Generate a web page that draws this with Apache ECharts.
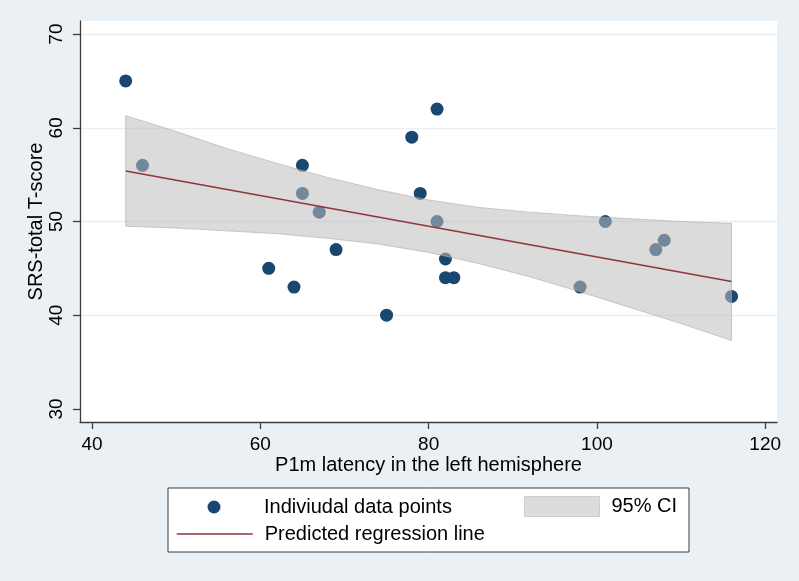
<!DOCTYPE html>
<html>
<head>
<meta charset="utf-8">
<script src="https://cdn.jsdelivr.net/npm/echarts@6/dist/echarts.min.js"></script>
<style>
html,body{margin:0;padding:0;background:#eaf0f3;}
#chart{width:799px;height:581px;}
</style>
</head>
<body>
<div id="chart"></div>
<script>
// Individual data points
var pointX = [44, 46, 61, 64, 65, 65, 67, 69, 75, 78, 79, 81, 81, 82, 82, 83, 98, 101, 107, 108, 116];
var pointY = [65, 56, 45, 43, 56, 53, 51, 47, 40, 59, 53, 62, 50, 46, 44, 44, 43, 50, 47, 48, 42];
// Predicted regression line (end points)
var lineX = [44, 116];
var lineY = [55.4, 43.6];
// 95% confidence band
var ciX = [44, 50, 56, 62, 68, 74, 80, 86, 92, 98, 104, 110, 116];
var ciUpper = [61.3, 59.6, 57.8, 56.2, 54.7, 53.4, 52.3, 51.5, 51.0, 50.6, 50.3, 50.0, 49.8];
var ciLower = [49.5, 49.3, 49.0, 48.7, 48.2, 47.6, 46.7, 45.5, 44.1, 42.5, 40.8, 39.1, 37.3];
// Axis ticks
var xTicks = [40, 60, 80, 100, 120];
var yTicks = [30, 40, 50, 60, 70];
var xTitle = 'P1m latency in the left hemisphere';
var yTitle = 'SRS-total T-score';
var legendNames = ['Indiviudal data points', 'Predicted regression line', '95% CI'];

var FONT = 'Liberation Sans, Arial, Helvetica, sans-serif';
var chart = echarts.init(document.getElementById('chart'), null, {renderer: 'canvas'});

var scatterData = pointX.map(function (x, i) { return [x, pointY[i]]; });
var lineData = lineX.map(function (x, i) { return [x, lineY[i]]; });

var option = {
  backgroundColor: '#eaf0f3',
  animation: false,
  grid: {
    left: 80, right: 22, top: 21, bottom: 159,
    show: true, backgroundColor: '#ffffff', borderWidth: 0
  },
  xAxis: {
    type: 'value',
    min: 38.57, max: 121.4,
    name: xTitle,
    nameLocation: 'middle',
    nameGap: 33,
    nameMoveOverlap: false,
    nameTextStyle: {color: '#000', fontSize: 20, fontFamily: FONT},
    axisLine: {show: true, onZero: false, lineStyle: {color: '#3c3c3c', width: 1.3}},
    axisTick: {show: true, length: 7, customValues: xTicks, lineStyle: {color: '#3c3c3c', width: 1.3}},
    axisLabel: {customValues: xTicks, color: '#000', fontSize: 19, fontFamily: FONT, margin: 13},
    splitLine: {show: false}
  },
  yAxis: {
    type: 'value',
    min: 28.6, max: 71.4,
    name: yTitle,
    nameLocation: 'middle',
    nameGap: 34,
    nameMoveOverlap: false,
    nameTextStyle: {color: '#000', fontSize: 20, fontFamily: FONT},
    axisLine: {show: true, onZero: false, lineStyle: {color: '#3c3c3c', width: 1.3}},
    axisTick: {show: true, length: 7, customValues: yTicks, lineStyle: {color: '#3c3c3c', width: 1.3}},
    axisLabel: {customValues: yTicks, color: '#000', fontSize: 19, fontFamily: FONT, margin: 14, rotate: 90},
    splitLine: {show: true, lineStyle: {color: ['rgba(0,0,0,0)', '#e6eff2', '#e6eff2', '#e6eff2', '#e6eff2'], width: 1.3}}
  },
  legend: [
    {
      selectedMode: false, orient: 'horizontal', left: 207.5, top: 497, padding: 0,
      itemWidth: 13, itemHeight: 13,
      textStyle: {color: '#000', fontSize: 20, fontFamily: FONT, lineHeight: 20, padding: [0, 0, 0, 38.5]},
      data: [{name: legendNames[0], icon: 'circle', itemStyle: {color: '#1a476f'}}]
    },
    {
      selectedMode: false, orient: 'horizontal', left: 176, top: 524, padding: 0,
      itemWidth: 76, itemHeight: 20,
      itemStyle: {opacity: 0},
      lineStyle: {color: '#90353b', width: 1.5, opacity: 1},
      textStyle: {color: '#000', fontSize: 20, fontFamily: FONT, lineHeight: 20, padding: [0, 0, 0, 7]},
      data: [{name: legendNames[1]}]
    },
    {
      selectedMode: false, orient: 'horizontal', left: 524, top: 496, padding: 0,
      itemWidth: 75, itemHeight: 20,
      textStyle: {color: '#000', fontSize: 20, fontFamily: FONT, lineHeight: 20, padding: [0, 0, 0, 7]},
      data: [{name: legendNames[2], icon: 'rect', itemStyle: {color: '#dcdcdc', borderColor: '#cdcdcd', borderWidth: 1}}]
    }
  ],
  graphic: [
    {
      type: 'rect', z: 0, silent: true,
      shape: {x: 168, y: 488, width: 521, height: 64},
      style: {fill: '#ffffff', stroke: '#3c3c3c', lineWidth: 1}
    }
  ],
  series: [
    {
      name: legendNames[0],
      type: 'scatter',
      z: 2,
      symbol: 'circle',
      symbolSize: 13,
      itemStyle: {color: '#1a476f', opacity: 1},
      data: scatterData
    },
    {
      name: legendNames[2],
      type: 'custom',
      z: 3,
      itemStyle: {color: '#dcdcdc'},
      data: [[ciX[0], ciUpper[0]]],
      renderItem: function (params, api) {
        if (params.dataIndex !== 0) return null;
        var pts = [];
        for (var i = 0; i < ciX.length; i++) pts.push(api.coord([ciX[i], ciUpper[i]]));
        for (var j = ciX.length - 1; j >= 0; j--) pts.push(api.coord([ciX[j], ciLower[j]]));
        return {
          type: 'polygon',
          shape: {points: pts},
          style: {fill: 'rgba(190,190,190,0.55)', stroke: 'rgba(165,165,165,0.55)', lineWidth: 1}
        };
      }
    },
    {
      name: legendNames[1],
      type: 'line',
      z: 4,
      showSymbol: false,
      symbol: 'none',
      lineStyle: {color: '#90353b', width: 1.5},
      itemStyle: {color: '#90353b'},
      data: lineData
    }
  ]
};
chart.setOption(option);
</script>
</body>
</html>
